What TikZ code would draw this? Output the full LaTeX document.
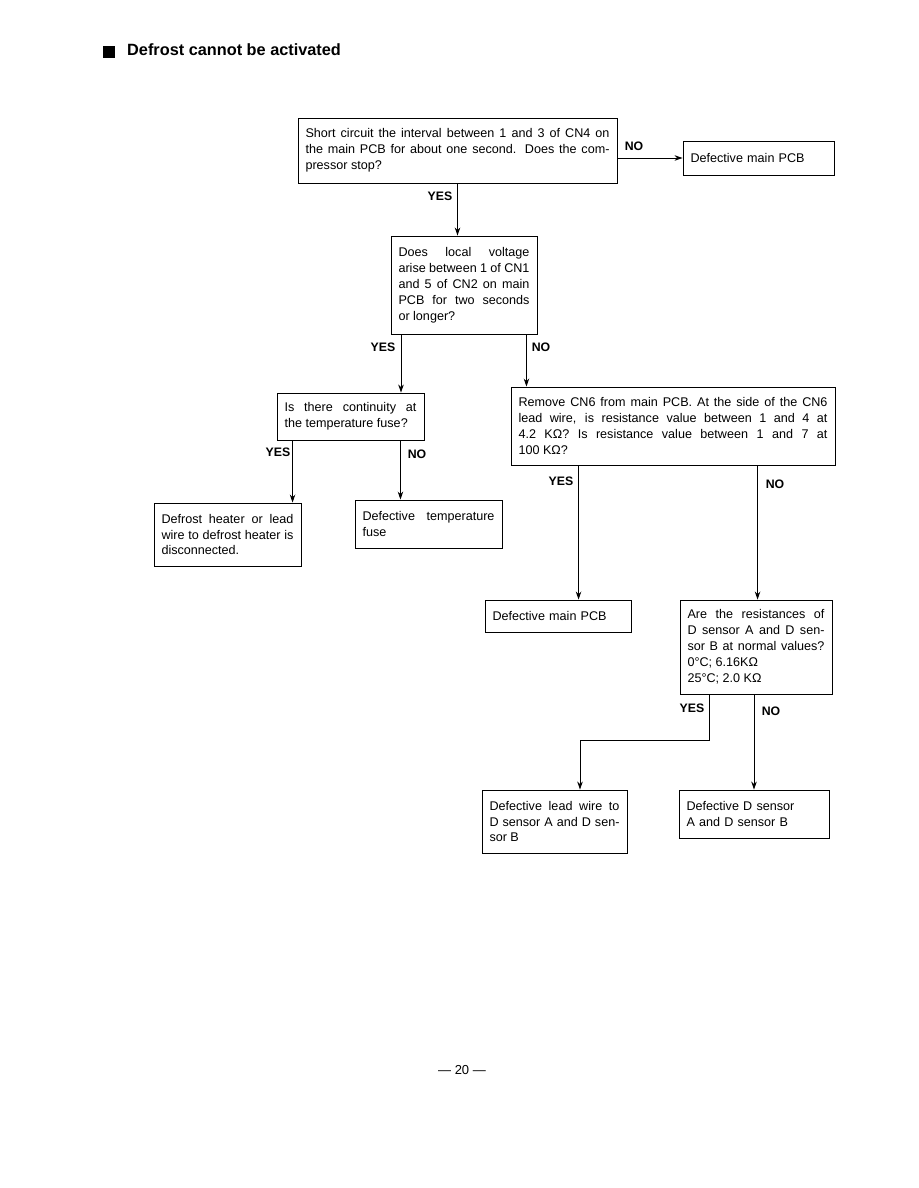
\documentclass[tikz,border=0pt]{standalone}
\usepackage{fontspec}
\setmainfont{Liberation Sans}
\usetikzlibrary{arrows.meta, calc}
\tolerance=10000
\hbadness=10000

\begin{document}
\begin{tikzpicture}[
  x=1pt, y=-1pt,
  ttl/.style={font=\fontsize{16.3}{19}\selectfont\bfseries, inner sep=0pt},
  box/.style={
    draw,
    line width=0.9pt,
    inner xsep=7.5pt,
    inner ysep=2pt,
    align=justify,
    font=\fontsize{12.6}{15.9}\selectfont
  },
  endbox/.style={box, align=left},
  arr/.style={draw, line width=0.9pt, -{Stealth[length=8pt, width=5.5pt]}},
  ans/.style={font=\fontsize{12.3}{14}\selectfont\bfseries, inner sep=0pt}
]
  \useasboundingbox (0,0) rectangle (918,1188);

  % ── Title ────────────────────────────────────────────────
  \node[fill, minimum size=12pt, inner sep=0pt] (mark) at (109,52) {};
  \node[ttl, anchor=base west] (title) at (127,56) {Defrost cannot be activated};

  % ── Questions ───────────────────────────────────────────
  \node[box, text width=304pt, minimum height=65pt] (q1) at (457.5,150.5)
    {Short circuit the interval between 1 and 3 of CN4 on\linebreak
     the main PCB for about one second. Does the com-\linebreak
     pressor stop?};
  \node[endbox, text width=136pt, minimum height=34pt] (pcbA) at (758.5,158)
    {Defective main PCB};

  \node[box, text width=131pt, minimum height=98pt] (q2) at (464,285)
    {Does local voltage\linebreak
     arise between 1 of CN1\linebreak
     and 5 of CN2 on main\linebreak
     PCB for two seconds\linebreak
     or longer?};

  \node[box, text width=132pt, minimum height=47pt] (q3) at (350.5,416.5)
    {Is there continuity at\linebreak
     the temperature fuse?};

  \node[box, text width=309pt, minimum height=78pt] (q4) at (673,426)
    {Remove CN6 from main PCB. At the side of the CN6\linebreak
     lead wire, is resistance value between 1 and 4 at\linebreak
     4.2 KΩ? Is resistance value between 1 and 7 at\linebreak
     100 KΩ?};

  \node[box, text width=137pt, minimum height=94pt] (q5) at (756,647)
    {Are the resistances of\linebreak
     D sensor A and D sen-\linebreak
     sor B at normal values?\linebreak
     0°C; 6.16KΩ\\
     25°C; 2.0 KΩ};

  % ── Results ─────────────────────────────────────────────
  \node[box, text width=132pt, minimum height=63pt] (res1) at (227.5,534.5)
    {Defrost heater or lead\linebreak
     wire to defrost heater is\linebreak
     disconnected.};
  \node[box, text width=132pt, minimum height=48pt] (res2) at (428.5,524)
    {Defective temperature\linebreak
     fuse};
  \node[endbox, text width=131pt, minimum height=32pt] (res3) at (558,616)
    {Defective main PCB};
  \node[box, text width=130pt, minimum height=63pt] (res4) at (554.5,821.5)
    {Defective lead wire to\linebreak
     D sensor A and D sen-\linebreak
     sor B};
  \node[endbox, text width=135pt, minimum height=48pt] (res5) at (754,814)
    {Defective D sensor\\
     A and D sensor B};

  % ── Branch points ───────────────────────────────────────
  \coordinate (q2yes) at ([xshift=-63pt]q2.south);
  \coordinate (q2no)  at ([xshift=-11pt]q2.south east);
  \coordinate (q3yes) at ([xshift=16pt]q3.south west);
  \coordinate (q3no)  at ([xshift=-24pt]q3.south east);
  \coordinate (q4yes) at ([xshift=68pt]q4.south west);
  \coordinate (q4no)  at ([xshift=247pt]q4.south west);
  \coordinate (q5yes) at ([xshift=30pt]q5.south west);
  \coordinate (res4in) at ([xshift=25.5pt]res4.north);

  % ── Connectors ──────────────────────────────────────────
  \draw[arr] (q1.east |- pcbA.west) -- (pcbA.west);
  \draw[arr] (q1.south) -- (q1.south |- q2.north);
  \draw[arr] (q2yes) -- (q2yes |- q3.north);
  \draw[arr] (q2no) -- (q2no |- q4.north);
  \draw[arr] (q3yes) -- (q3yes |- res1.north);
  \draw[arr] (q3no) -- (q3no |- res2.north);
  \draw[arr] (q4yes) -- (q4yes |- res3.north);
  \draw[arr] (q4no) -- (q4no |- q5.north);
  \draw[arr] (q5yes) -- ++(0,46) -| (res4in);
  \draw[arr] (q5.south -| res5.north) -- (res5.north);

  % ── Answers ─────────────────────────────────────────────
  \node[ans] (n1) at (634,146) {NO};
  \node[ans] (y1) at (440,196) {YES};
  \node[ans] (y2) at (383,347) {YES};
  \node[ans] (n2) at (541,347) {NO};
  \node[ans] (y3) at (278,452) {YES};
  \node[ans] (n3) at (417,454) {NO};
  \node[ans] (y4) at (561,481) {YES};
  \node[ans] (n4) at (775,484) {NO};
  \node[ans] (y5) at (692,708) {YES};
  \node[ans] (n5) at (771,711) {NO};

  % ── Page number ─────────────────────────────────────────
  \node[font=\fontsize{13}{15}\selectfont] (page) at (462,1070) {— 20 —};

\end{tikzpicture}
\end{document}
